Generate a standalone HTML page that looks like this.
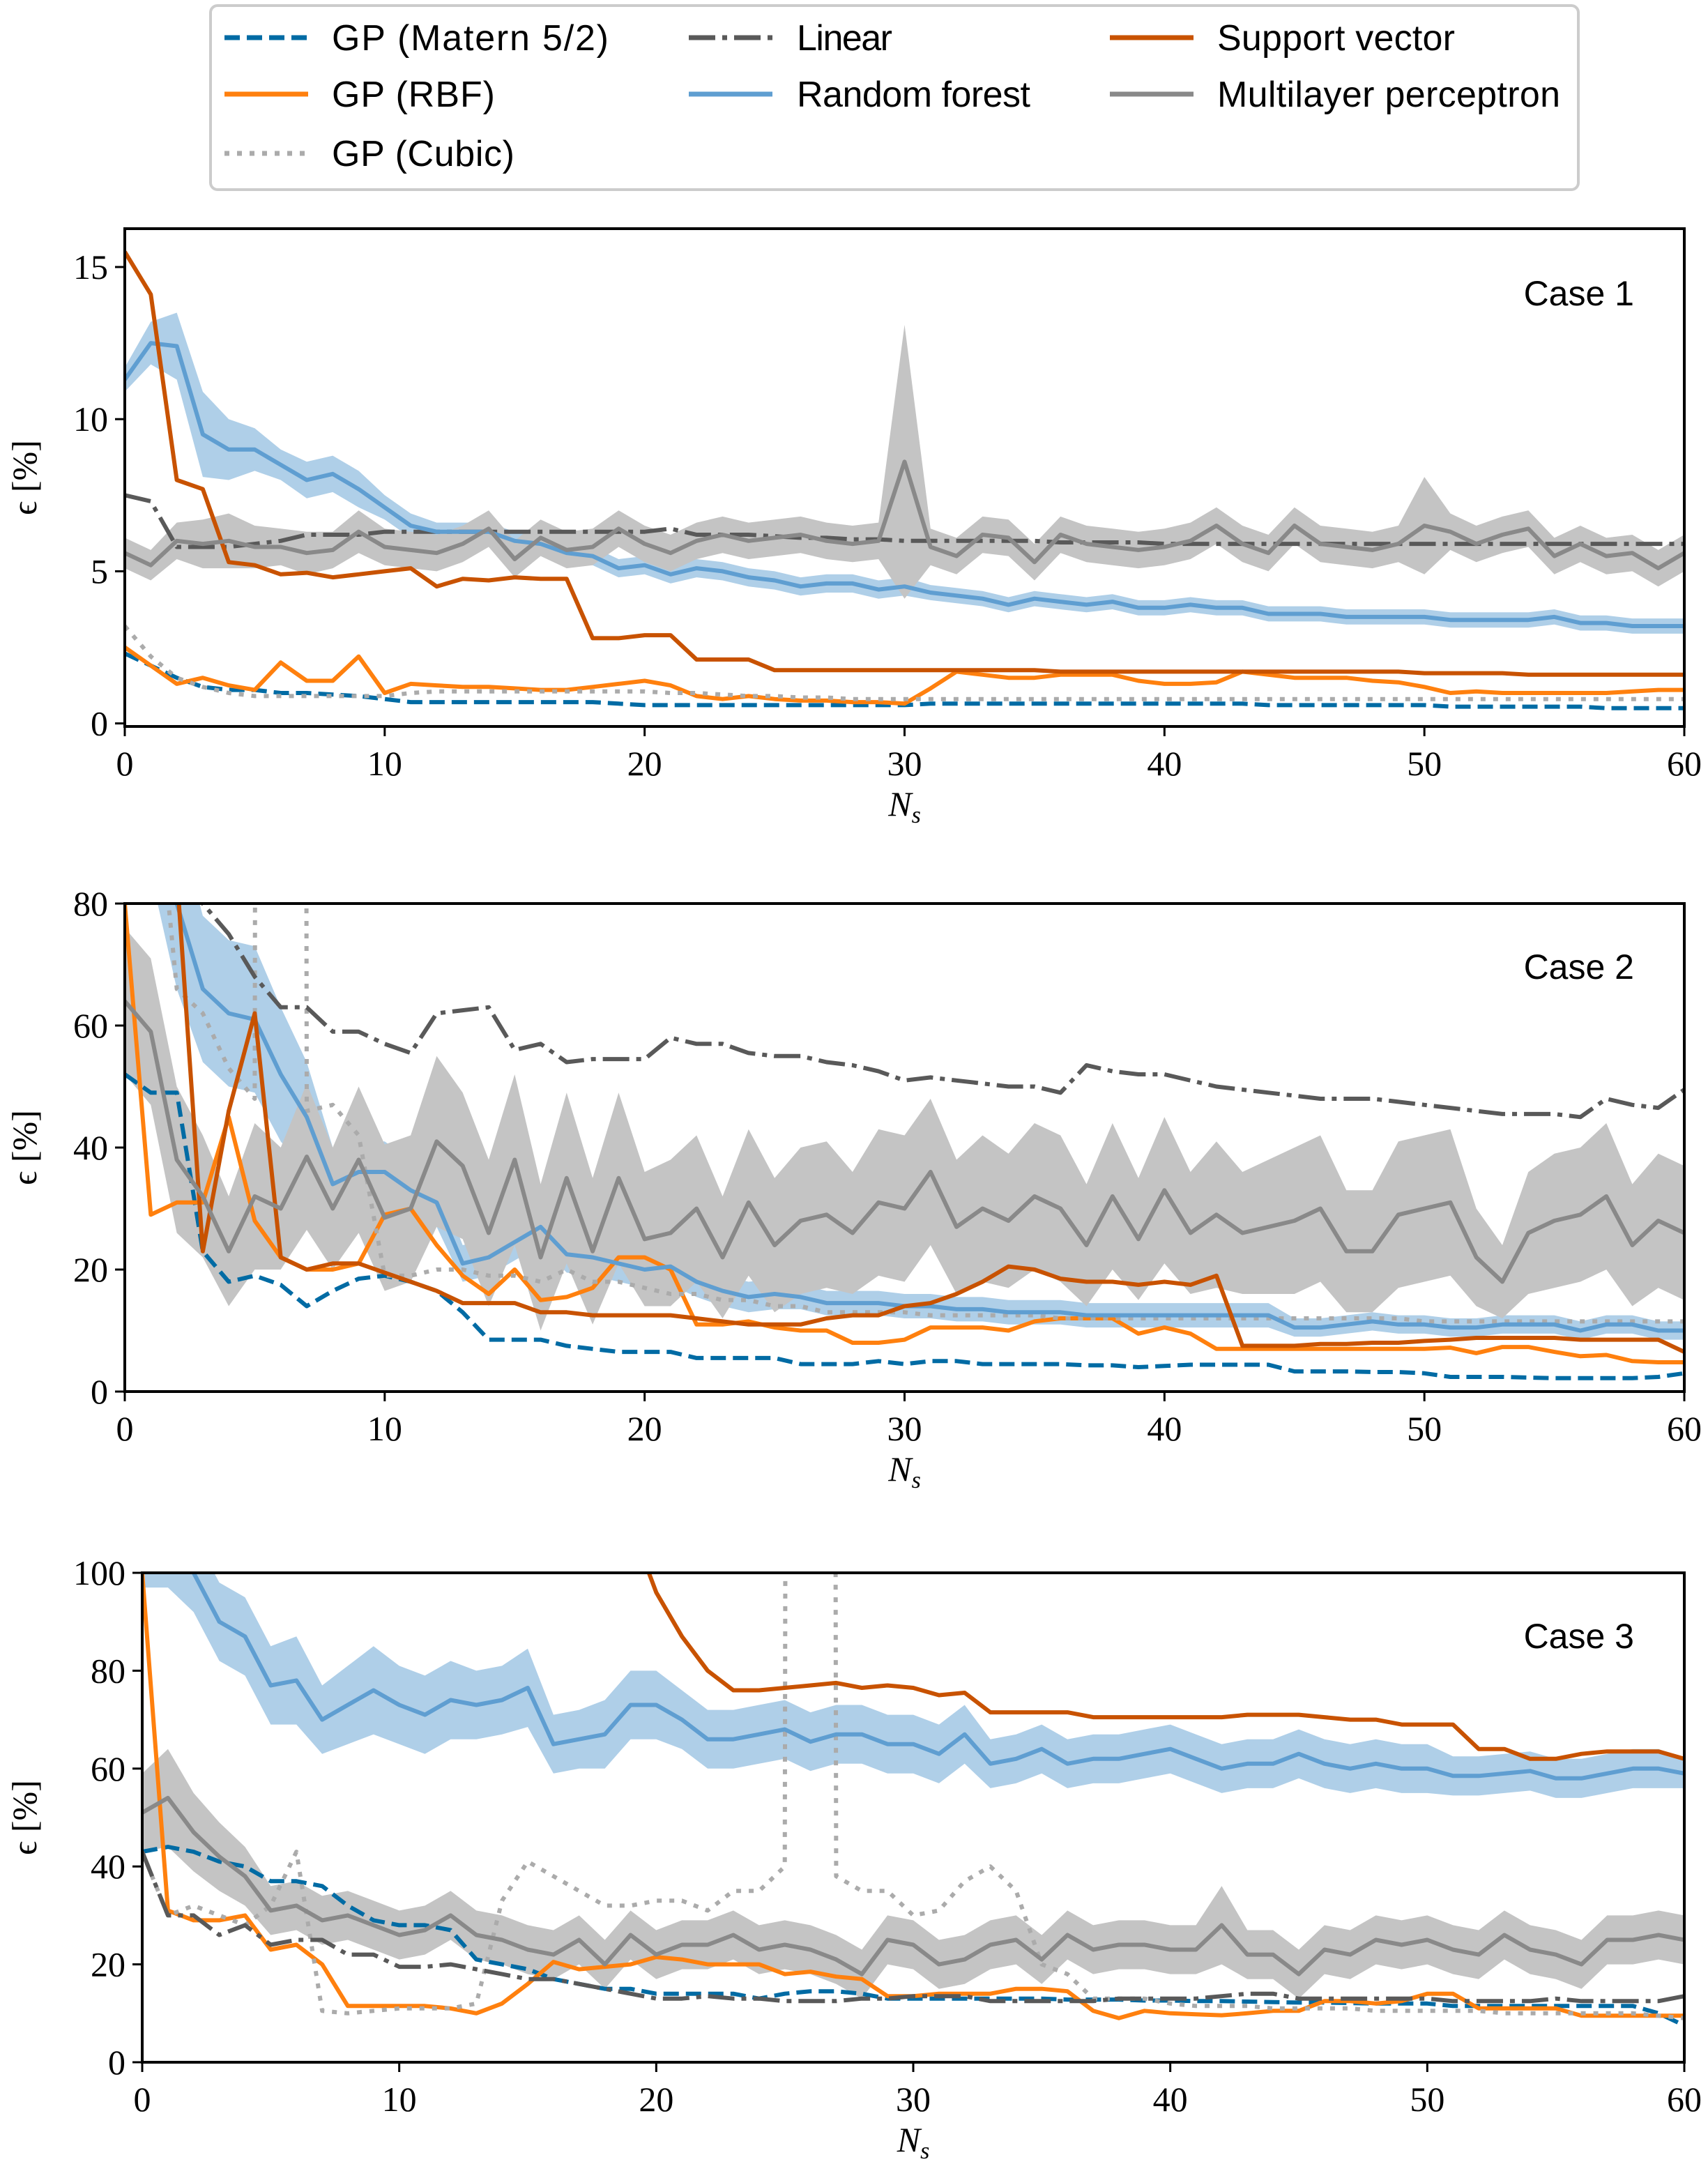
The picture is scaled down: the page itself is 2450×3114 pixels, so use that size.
<!DOCTYPE html>
<html><head><meta charset="utf-8">
<style>
html,body{margin:0;padding:0;background:#fff;}
svg{display:block;}
.tick{font-family:"Liberation Serif",serif;font-size:50px;fill:#000;}
.leg{font-family:"Liberation Sans",sans-serif;font-size:52px;fill:#000;}
.case{font-family:"Liberation Sans",sans-serif;font-size:50px;fill:#000;}
</style></head>
<body>
<svg id="fig" xmlns="http://www.w3.org/2000/svg" width="2450" height="3114" viewBox="0 0 2450 3114">
<rect x="0" y="0" width="2450" height="3114" fill="#fff"/>
<g>
<rect x="302" y="8" width="1962" height="264" rx="10" fill="#fff" stroke="#cccccc" stroke-width="4"/>
<g><line x1="322" y1="54" x2="442" y2="54" stroke="#006ba4" stroke-width="7" stroke-dasharray="22 10"/><text class="leg" x="476" y="72" textLength="397">GP (Matern 5/2)</text></g>
<g><line x1="322" y1="135" x2="442" y2="135" stroke="#ff800e" stroke-width="7"/><text class="leg" x="476" y="153" textLength="234">GP (RBF)</text></g>
<g><line x1="322" y1="220" x2="442" y2="220" stroke="#ababab" stroke-width="7" stroke-dasharray="7 11"/><text class="leg" x="476" y="238" textLength="262">GP (Cubic)</text></g>
<g><line x1="988" y1="54" x2="1108" y2="54" stroke="#595959" stroke-width="7" stroke-dasharray="38 10 7 10"/><text class="leg" x="1143" y="72" textLength="137">Linear</text></g>
<g><line x1="988" y1="135" x2="1108" y2="135" stroke="#5f9ed1" stroke-width="7"/><text class="leg" x="1143" y="153" textLength="335">Random forest</text></g>
<g><line x1="1592" y1="54" x2="1712" y2="54" stroke="#c85200" stroke-width="7"/><text class="leg" x="1746" y="72" textLength="341">Support vector</text></g>
<g><line x1="1592" y1="135" x2="1712" y2="135" stroke="#898989" stroke-width="7"/><text class="leg" x="1746" y="153" textLength="492">Multilayer perceptron</text></g>
</g>
</svg>
<script>
// ---------- Case 1 data ----------
const c1_matern=[2.3,1.9,1.5,1.2,1.1,1.1,1.0,1.0,0.95,0.9,0.8,0.7,0.7,0.7,0.7,0.7,0.7,0.7,0.7,0.65,0.6,0.6,0.6,0.6,0.6,0.6,0.6,0.6,0.6,0.6,0.6,0.65,0.65,0.65,0.65,0.65,0.65,0.65,0.65,0.65,0.65,0.65,0.65,0.65,0.6,0.6,0.6,0.6,0.6,0.6,0.6,0.55,0.55,0.55,0.55,0.55,0.55,0.5,0.5,0.5,0.5];
const c1_rbf=[2.5,1.9,1.3,1.5,1.25,1.1,2.0,1.4,1.4,2.2,1.0,1.3,1.25,1.2,1.2,1.15,1.1,1.1,1.2,1.3,1.4,1.25,0.9,0.8,0.9,0.8,0.75,0.75,0.7,0.7,0.65,1.15,1.7,1.6,1.5,1.5,1.6,1.6,1.6,1.4,1.3,1.3,1.35,1.7,1.6,1.5,1.5,1.5,1.4,1.35,1.2,1.0,1.05,1.0,1.0,1.0,1.0,1.0,1.05,1.1,1.1];
const c1_cubic=[3.2,2.2,1.5,1.2,1.0,0.9,0.9,0.9,0.9,0.9,0.9,1.0,1.05,1.05,1.05,1.05,1.05,1.05,1.05,1.05,1.05,1.0,1.0,0.95,0.9,0.9,0.85,0.85,0.8,0.8,0.8,0.8,0.8,0.8,0.8,0.8,0.8,0.8,0.8,0.8,0.8,0.8,0.8,0.8,0.8,0.8,0.8,0.8,0.8,0.8,0.8,0.8,0.8,0.8,0.8,0.8,0.8,0.8,0.8,0.8,0.8];
const c1_linear=[7.5,7.3,5.8,5.8,5.8,5.9,6.0,6.2,6.2,6.2,6.3,6.3,6.3,6.3,6.3,6.3,6.3,6.3,6.3,6.3,6.3,6.4,6.2,6.2,6.2,6.15,6.1,6.1,6.05,6.05,6.0,6.0,6.0,6.0,6.0,6.0,5.95,5.95,5.95,5.95,5.9,5.9,5.9,5.9,5.9,5.9,5.9,5.9,5.9,5.9,5.9,5.9,5.9,5.9,5.9,5.9,5.9,5.9,5.9,5.9,5.9];
const c1_rf=[11.3,12.5,12.4,9.5,9.0,9.0,8.5,8.0,8.2,7.7,7.1,6.5,6.3,6.3,6.3,6.0,5.9,5.6,5.5,5.1,5.2,4.9,5.1,5.0,4.8,4.7,4.5,4.6,4.6,4.4,4.5,4.3,4.2,4.1,3.9,4.1,4.0,3.9,4.0,3.8,3.8,3.9,3.8,3.8,3.6,3.6,3.6,3.5,3.5,3.5,3.5,3.4,3.4,3.4,3.4,3.5,3.3,3.3,3.2,3.2,3.2];
const c1_rf_spread=[0.4,0.7,1.1,1.4,1.0,0.7,0.5,0.6,0.6,0.6,0.4,0.4,0.3,0.3,0.3,0.3,0.3,0.3,0.3,0.3,0.3,0.3,0.3,0.3,0.3,0.3,0.3,0.3,0.3,0.3,0.3,0.25,0.25,0.25,0.25,0.25,0.25,0.25,0.25,0.25,0.25,0.25,0.25,0.25,0.25,0.25,0.25,0.25,0.25,0.25,0.25,0.25,0.25,0.25,0.25,0.25,0.25,0.25,0.25,0.25,0.25];
const c1_sv=[15.5,14.1,8.0,7.7,5.3,5.2,4.9,4.95,4.8,4.9,5.0,5.1,4.5,4.75,4.7,4.8,4.75,4.75,2.8,2.8,2.9,2.9,2.1,2.1,2.1,1.75,1.75,1.75,1.75,1.75,1.75,1.75,1.75,1.75,1.75,1.75,1.7,1.7,1.7,1.7,1.7,1.7,1.7,1.7,1.7,1.7,1.7,1.7,1.7,1.7,1.65,1.65,1.65,1.65,1.6,1.6,1.6,1.6,1.6,1.6,1.6];
const c1_mlp=[5.6,5.2,6.0,5.9,6.0,5.8,5.8,5.6,5.7,6.3,5.8,5.7,5.6,5.9,6.4,5.4,6.1,5.7,5.8,6.4,5.9,5.6,6.0,6.2,6.0,6.1,6.2,6.0,5.9,6.0,8.6,5.8,5.5,6.2,6.1,5.3,6.2,5.9,5.8,5.7,5.8,6.0,6.5,5.9,5.6,6.5,5.9,5.8,5.7,5.9,6.5,6.3,5.9,6.2,6.4,5.5,5.9,5.5,5.6,5.1,5.6];
const c1_mlp_spread=[0.5,0.5,0.6,0.8,0.9,0.7,0.6,0.7,0.6,0.7,0.6,0.6,0.6,0.6,0.6,0.6,0.6,0.6,0.6,0.6,0.6,0.6,0.6,0.6,0.6,0.6,0.6,0.6,0.6,0.6,4.5,0.6,0.6,0.6,0.6,0.6,0.6,0.6,0.6,0.6,0.6,0.6,0.6,0.6,0.6,0.6,0.6,0.6,0.6,0.6,1.6,0.6,0.6,0.6,0.6,0.6,0.6,0.6,0.6,0.6,0.6];
// ---------- Case 2 data ----------
const c2_matern=[52,49,49,23,18,19,17.5,14,16.5,18.5,19,18,16.5,13,8.5,8.5,8.5,7.5,7,6.5,6.5,6.5,5.5,5.5,5.5,5.5,4.5,4.5,4.5,5,4.5,5,5,4.5,4.5,4.5,4.5,4.3,4.3,4,4.2,4.4,4.4,4.4,4.4,3.3,3.3,3.3,3.2,3.2,3,2.4,2.4,2.4,2.3,2.2,2.2,2.2,2.2,2.4,3];
const c2_rbf=[80,29,31,31,45,28,22,20,20,21,29,30,24,19,16,20,15,15.5,17,22,22,20,11,11,11.5,10.5,10,10,8,8,8.5,10.5,10.5,10.5,10,11.5,12,12,12,9.5,10.5,9.5,7,7,7,7,7,7,7,7,7,7.2,6.3,7.3,7.3,6.5,5.8,6,5,4.8,4.8];
const c2_cubic=[200,110,66,62,53,48,3000,46,47,42,19,19,20,20,19,19,18,20,18,18,17,16,16,15,15,14,14,13,13,13,13,12.5,12.5,12.5,12.5,12.5,12,12,12,12,12,12,12,12,12,12,12,12,12,12,11.5,11.5,11.5,11.5,11.5,11.5,11.5,11.5,11.5,11.5,11.5];
const c2_linear=[100,100,85,80,75,68,63,63,59,59,57,55.5,62,62.5,63,56,57,54,54.5,54.5,54.5,58,57,57,55.5,55,55,54,53.5,52.5,51,51.5,51,50.5,50,50,49,53.5,52.5,52,52,51,50,49.5,49,48.5,48,48,48,47.5,47,46.5,46,45.5,45.5,45.5,45,48,47,46.5,49.5];
const c2_rf=[100,100,80,66,62,61,52,45,34,36,36,33,31,21,22,24.5,27,22.5,22,21,20,20.5,18,16.5,15.5,16,15.5,14.5,14.5,14.5,14,14,13.5,13.5,13,13,13,12.5,12.5,12.5,12.5,12.5,12.5,12.5,12.5,10.5,10.5,11,11.5,11,11,10.5,10.5,11,11,11,10,11,11,10,10];
const c2_rf_spread=[15,15,14,12,12,12,11,9,6,5,5,5,4,3,3,3,3,3,3,3,3,3,2.5,2.5,2.5,2.5,2,2,2,2,2,2,2,2,2,2,2,2,2,2,2,2,2,2,2,1.5,1.5,1.5,1.5,1.5,1.5,1.5,1.5,1.5,1.5,1.5,1.5,1.5,1.5,1.5,1.5];
const c2_sv=[150,150,85,23,46,62,22,20,21,21,19.5,18,16.5,14.5,14.5,14.5,13,13,12.5,12.5,12.5,12.5,12,11.5,11,11,11,12,12.5,12.5,14,14.5,16,18,20.5,20,18.5,18,18,17.5,18,17.5,19,7.5,7.5,7.5,7.8,7.8,8,8,8.3,8.5,8.8,8.8,8.8,8.8,8.5,8.5,8.5,8.5,6.5];
const c2_mlp=[64,59,38,32,23,32,30,38.5,30,38,28.5,30,41,37,26,38,22,35,23,35,25,26,30,22,31,24,28,29,26,31,30,36,27,30,28,32,30,24,32,25,33,26,29,26,27,28,30,23,23,29,30,31,22,18,26,28,29,32,24,28,26];
const c2_mlp_spread=[12,12,12,10,9,12,10,12,10,12,12,12,14,12,12,14,12,14,12,14,11,12,12,10,12,11,12,12,10,12,12,12,11,12,11,12,12,10,12,10,12,10,12,10,11,12,12,10,10,12,12,12,8,6,10,11,11,12,10,11,11];
// ---------- Case 3 data ----------
const c3_matern=[43,44,43,41,40,37,37,36,32,29,28,28,27,21,20,19,17,16,15,15,14,14,14,14,13,14,14.5,14.5,14,13,13,13,13,13,13,13,12.8,12.8,12.8,12.6,12.6,12.5,12.5,12.4,12.3,12.2,12.2,12.1,12,12,12,11.5,11.5,11.5,11.5,11.5,11.5,11.5,11.5,10,7.5];
const c3_rbf=[100,31,29,29,30,23,24,20,11.5,11.5,11.5,11.5,11,10,12,16,20.5,19,19.5,20,21.5,21,20,20,20,18,18.5,17.5,17,13.5,13.5,14,14,14,15,15,14.5,10.5,9,10.5,10,9.8,9.6,10,10.5,10.5,12.5,12.5,12,12.5,14,14,11,11,11,11,9.5,9.5,9.5,9.5,9.5];
const c3_cubic=[43,30,32,30,28,32,43,10.5,10,10.5,11,11,11,12,33,41,38,35,32,32,33,33,31,35,35,40,3000,38,35,35,30,31,37,40,35,20,18,13,13,13,12,11.5,11.5,11.5,11,11,11,11,10.5,10.5,10.5,10.5,10.5,10,10,10,10,10,10,9.5,9];
const c3_linear=[43,30,30,26,28,24,25,25,22,22,19.5,19.5,20,19,18,17,17,16,15,14,13,13,13.5,13,13,12.5,12.5,12.5,13,13,13.5,13.5,13.5,12.5,12.5,12.5,12.5,12.5,13,13,13,13,13.5,14,14,13,13,13,13,13,13,12.5,12.5,12.5,12.5,13,12.5,12.5,12.5,12.5,13.5];
const c3_rf=[105,105,100,90,87,77,78,70,73,76,73,71,74,73,74,76.5,65,66,67,73,73,70,66,66,67,68,65.5,67,67,65,65,63,67,61,62,64,61,62,62,63,64,62,60,61,61,63,61,60,61,60,60,58.5,58.5,59,59.5,58,58,59,60,60,59];
const c3_rf_spread=[8,8,8,8,8,8,9,7,8,9,8,8,8,7,7,8,6,6,7,7,7,6,6,6,6,6,6,6,6,6,6,6,6,5,5,5,5,5,5,5,5,5,5,5,5,5,5,5,5,5,5,4,4,4,4,4,4,4,4,4,3];
const c3_sv=[150,150,150,150,150,150,150,150,150,150,150,150,150,150,150,150,150,150,150,110,96,87,80,76,76,76.5,77,77.5,76.5,77,76.5,75,75.5,71.5,71.5,71.5,71.5,70.5,70.5,70.5,70.5,70.5,70.5,71,71,71,70.5,70,70,69,69,69,64,64,62,62,63,63.5,63.5,63.5,62];
const c3_mlp=[51,54,47,42,38,31,32,29,30,28,26,27,30,26,25,23,22,25,20,26,22,24,24,26,23,24,23,21,18,25,24,20,21,24,25,21,26,23,24,24,23,23,28,22,22,18,23,22,25,24,25,23,22,26,23,22,20,25,25,26,25];
const c3_mlp_spread=[8,10,8,7,6,5,5,5,5,5,5,5,5,5,5,5,5,5,5,5,5,5,5,5,5,5,5,5,5,5,5,5,5,5,5,5,5,5,5,5,5,5,8,5,5,5,5,5,5,5,5,5,5,5,5,5,5,5,5,5,5];
const xTicks=[0,10,20,30,40,50,60];
const c1_yTicks=[0,5,10,15];
const c2_yTicks=[0,20,40,60,80];
const c3_yTicks=[0,20,40,60,80,100];

const NS='http://www.w3.org/2000/svg';
const svg=document.getElementById('fig');
function mk(tag,attrs,parent){const e=document.createElementNS(NS,tag);for(const k in attrs)e.setAttribute(k,attrs[k]);(parent||svg).appendChild(e);return e;}

const STY={
 matern:{c:'#006ba4',d:'22 10'},rbf:{c:'#ff800e',d:null},cubic:{c:'#ababab',d:'7 11'},
 linear:{c:'#595959',d:'38 10 7 10'},rf:{c:'#5f9ed1',d:null},sv:{c:'#c85200',d:null},mlp:{c:'#898989',d:null}
};

function panel(idx,box,ylim,yTicks,series,caseLabel,caseY){
 const g=mk('g',{});
 
 
 const X=v=>box.l+(v-0)/(60-0)*(box.r-box.l);
 const Y=v=>box.b-(v-ylim[0])/(ylim[1]-ylim[0])*(box.b-box.t);
 const cp=mk('clipPath',{id:'clip'+idx},g);
 mk('rect',{x:box.l,y:box.t,width:box.r-box.l,height:box.b-box.t},cp);
 const plot=mk('g',{'clip-path':'url(#clip'+idx+')'},g);
 
 
 const pts=arr=>arr.map((v,i)=>X(i).toFixed(1)+','+Y(v).toFixed(1)).join(' ');
 function band(mean,sp,fill,name){
  const up=mean.map((v,i)=>X(i).toFixed(1)+','+Y(v+sp[i]).toFixed(1));
  const lo=mean.map((v,i)=>X(i).toFixed(1)+','+Y(v-sp[i]).toFixed(1)).reverse();
  const p=mk('polygon',{points:up.concat(lo).join(' '),fill:fill,stroke:'none'},plot);
  
  
 }
 band(series.rf,series.rf_spread,'#afcfe8','rf-band-case-'+idx);
 band(series.mlp,series.mlp_spread,'#c4c4c4','mlp-band-case-'+idx);
 for(const key of ['matern','rbf','cubic','linear','rf','sv','mlp']){
  const s=STY[key];
  const a={points:pts(series[key]),fill:'none',stroke:s.c,'stroke-width':6,'stroke-linejoin':'round'};
  if(s.d)a['stroke-dasharray']=s.d;
  const l=mk('polyline',a,plot);
  
  
 }
 const fr=mk('rect',{x:box.l,y:box.t,width:box.r-box.l,height:box.b-box.t,fill:'none',stroke:'#000','stroke-width':4},g);
 
 
 for(const t of xTicks){
  mk('line',{x1:X(t),x2:X(t),y1:box.b,y2:box.b+14,stroke:'#000','stroke-width':3},g);
  const tx=mk('text',{x:X(t),y:box.b+70,'text-anchor':'middle',class:'tick'},g);
  tx.textContent=t;
  
  
 }
 for(const t of yTicks){
  mk('line',{x1:box.l-14,x2:box.l,y1:Y(t),y2:Y(t),stroke:'#000','stroke-width':3},g);
  const tx=mk('text',{x:box.l-24,y:Y(t)+17,'text-anchor':'end',class:'tick'},g);
  tx.textContent=t;
  
  
 }
 const yl=mk('text',{x:0,y:0,'text-anchor':'middle',class:'tick',transform:'translate(52,'+((box.t+box.b)/2)+') rotate(-90)'},g);
 yl.textContent='ϵ [%]';
 
 
 const xl=mk('text',{x:(box.l+box.r)/2,y:box.b+128,'text-anchor':'middle',class:'tick','font-style':'italic'},g);
 xl.innerHTML='N<tspan font-size="34" dy="10">s</tspan>';
 
 
 const cl=mk('text',{x:2344,y:caseY,'text-anchor':'end',class:'case'},g);
 cl.textContent=caseLabel;
 
 
}

panel(1,{l:179,r:2416,t:328,b:1042},[-0.1,16.26],c1_yTicks,
 {matern:c1_matern,rbf:c1_rbf,cubic:c1_cubic,linear:c1_linear,rf:c1_rf,rf_spread:c1_rf_spread,sv:c1_sv,mlp:c1_mlp,mlp_spread:c1_mlp_spread},'Case 1',438);
panel(2,{l:179,r:2416,t:1296,b:1996},[0,80],c2_yTicks,
 {matern:c2_matern,rbf:c2_rbf,cubic:c2_cubic,linear:c2_linear,rf:c2_rf,rf_spread:c2_rf_spread,sv:c2_sv,mlp:c2_mlp,mlp_spread:c2_mlp_spread},'Case 2',1404);
panel(3,{l:204,r:2416,t:2256,b:2958},[0,100],c3_yTicks,
 {matern:c3_matern,rbf:c3_rbf,cubic:c3_cubic,linear:c3_linear,rf:c3_rf,rf_spread:c3_rf_spread,sv:c3_sv,mlp:c3_mlp,mlp_spread:c3_mlp_spread},'Case 3',2364);
</script>
</body></html>
